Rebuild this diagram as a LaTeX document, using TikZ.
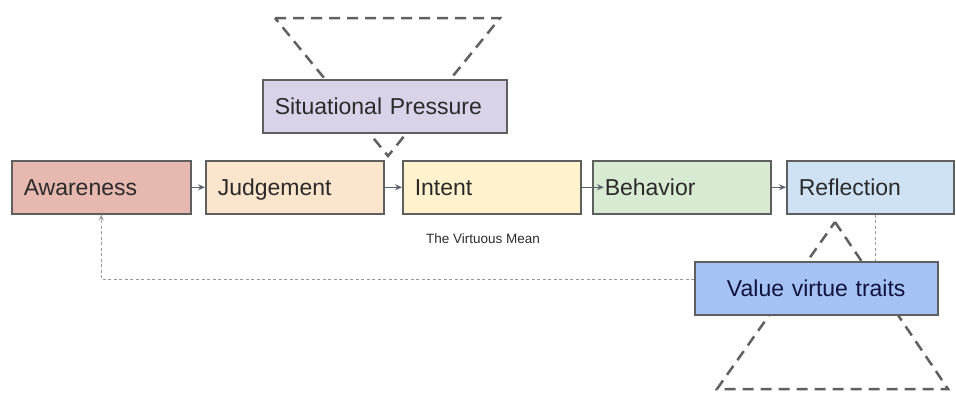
\documentclass[tikz,border=0pt]{standalone}
\usepackage{fontspec}
\setmainfont{Liberation Sans}
\usetikzlibrary{arrows.meta}
\definecolor{awc}{HTML}{E6B8AF}
\definecolor{juc}{HTML}{FCE5CD}
\definecolor{inc}{HTML}{FFF2CC}
\definecolor{bec}{HTML}{D9EAD3}
\definecolor{rec}{HTML}{CFE2F3}
\definecolor{spc}{HTML}{D9D2E9}
\definecolor{vac}{HTML}{A4C2F4}
\definecolor{boxline}{HTML}{5F5F5F}
\definecolor{textc}{HTML}{2A2A2A}
\definecolor{arrc}{HTML}{5A6470}
\definecolor{fbc}{HTML}{9A9A9A}
\definecolor{tric}{HTML}{606060}
\tikzset{
  box/.style={draw=boxline, line width=1.5pt, minimum height=53pt, inner xsep=12pt, inner ysep=0pt,
    anchor=north west, align=left, text=textc, text height=20pt, text depth=3.5pt,
    font=\fontsize{23}{27}\selectfont},
  flow/.style={-{Stealth[length=7pt,width=6pt]}, draw=arrc, line width=1.4pt},
  fb/.style={draw=fbc, line width=1.4pt, dash pattern=on 3pt off 2.5pt},
  tri/.style={draw=tric, line width=2.5pt, dash pattern=on 11pt off 7pt}
}
\begin{document}
\begin{tikzpicture}[x=1pt,y=-1pt]
\useasboundingbox (0,0) rectangle (956,394);
% triangles (behind)
\draw[tri] (275,18) -- (500,18) -- (388,156) -- cycle;
\draw[tri] (835,222) -- (948,389) -- (717,389) -- cycle;
% boxes
\node[box, fill=awc, text width=155pt] (aw) at (11,160) {Awareness};
\node[box, fill=juc, text width=154pt] (ju) at (205,160) {Judgement};
\node[box, fill=inc, text width=154pt] (in) at (402,160) {Intent};
\node[box, fill=bec, text width=154pt] (be) at (592,160) {Behavior};
\node[box, fill=rec, text width=143pt] (re) at (786,160) {Reflection};
\node[box, fill=spc, text width=220pt] (sp) at (262,79) {Situational Pressure};
% feedback lines
\draw[fb] ([xshift=5.5pt]re.south) -- ++(0,48);
\node[box, fill=vac, text width=219pt, align=center, text=textc!70!blue!60!black] (va) at (694,261) {Value virtue traits};
\draw[fb, -{Stealth[length=6pt,width=5pt]}] ([yshift=9pt]va.west) -| (aw.south);
% flow arrows
\draw[flow] (aw) -- (ju);
\draw[flow] (ju) -- (in);
\draw[flow, shorten >=-12pt] (in) -- (be);
\draw[flow] (be) -- (re);
\node[font=\fontsize{13.5}{16}\selectfont, text=textc] (vm) at (483,239) {The Virtuous Mean};
\end{tikzpicture}
\end{document}
